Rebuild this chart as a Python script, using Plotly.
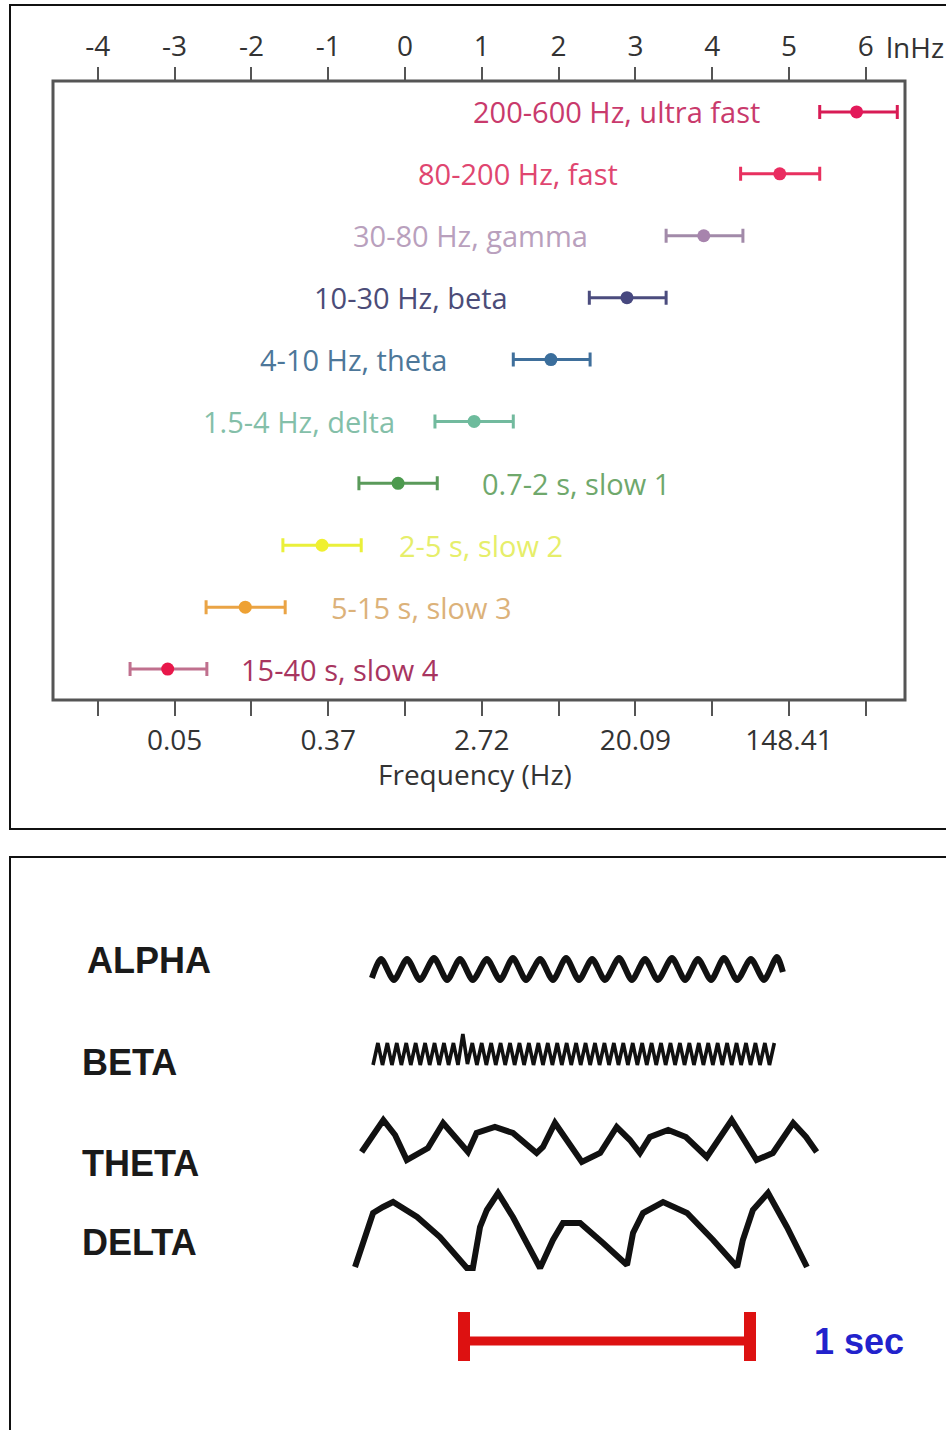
import plotly.graph_objects as go

W, H = 946, 1430

# ---------------- top panel data (natural log of frequency) ----------------
band_labels = ["200-600 Hz, ultra fast", "80-200 Hz, fast", "30-80 Hz, gamma",
               "10-30 Hz, beta", "4-10 Hz, theta", "1.5-4 Hz, delta",
               "0.7-2 s, slow 1", "2-5 s, slow 2", "5-15 s, slow 3", "15-40 s, slow 4"]
center_ln = [5.88, 4.88, 3.89, 2.89, 1.90, 0.90, -0.09, -1.08, -2.08, -3.09]
low_ln = [5.40, 4.37, 3.40, 2.40, 1.41, 0.39, -0.60, -1.59, -2.59, -3.58]
high_ln = [6.41, 5.40, 4.40, 3.40, 2.41, 1.41, 0.42, -0.57, -1.56, -2.58]

top_tick_vals = [-4, -3, -2, -1, 0, 1, 2, 3, 4, 5, 6]
top_tick_text = ["-4", "-3", "-2", "-1", "0", "1", "2", "3", "4", "5", "6"]
bottom_tick_text = ["", "0.05", "", "0.37", "", "2.72", "", "20.09", "", "148.41", ""]

# styles / label placement (layout, not data)
marker_colors = ["#e3195a", "#ea2c60", "#a784ad", "#47487f", "#3b6e9c",
                 "#6dbb9c", "#4c9a4e", "#f0f030", "#eea133", "#e8174a"]
bar_colors = ["#d81b55", "#e8305f", "#a28aa9", "#4b4c7e", "#3f6f9b",
              "#72ba9e", "#5a9a5a", "#eaf03a", "#eaa445", "#c0708e"]
text_colors = ["#c93a6c", "#e04670", "#b9a0bd", "#4b4c78", "#4d7799",
               "#84bfa9", "#6fa86c", "#e6ee6a", "#dcb27a", "#a83560"]
label_x = [4.65, 2.80, 2.41, 1.37, 0.57, -0.10, 0.98, -0.10, -0.99, -2.16]
label_anchor = ["right"] * 6 + ["left"] * 4

# ---------------- bottom panel data (time in ms, amplitude arbitrary) ----------------
wave_names = ["ALPHA", "BETA", "THETA", "DELTA"]

alpha_t = [-322, -290, -245, -199, -154, -105, -59, -14, 31, 80, 126, 171, 217, 266, 311,
           357, 402, 448, 493, 542, 587, 633, 678, 727, 773, 818, 864, 909, 955, 1003,
           1049, 1094, 1115]
alpha_a = [-9, 10, -11, 10, -11, 11, -11, 10, -11, 10, -11, 11, -11, 10, -11,
           11, -11, 10, -11, 11, -11, 10, -11, 11, -11, 10, -11, 11, -11, 10,
           -11, 12, -3]

beta_t = [-318, -301, -285, -268, -252, -235, -219, -202, -186, -169, -153, -136, -120,
          -103, -87, -70, -54, -37, -21, -4, 12, 29, 45, 62, 78, 95, 111, 128, 144, 161,
          177, 194, 210, 227, 243, 260, 276, 293, 309, 326, 342, 359, 375, 392, 408, 425,
          441, 458, 474, 491, 507, 524, 540, 557, 573, 590, 606, 623, 639, 656, 672, 689,
          705, 722, 738, 755, 771, 788, 804, 821, 837, 854, 870, 887, 903, 920, 936, 953,
          969, 986, 1002, 1019, 1035, 1052, 1068, 1085]
beta_a = [-11, 11, -11, 11, -11, 11, -11, 11, -11, 11, -11, 11, -11, 11, -11, 11, -11, 11, -11, 20,
          -10, 11, -11, 11, -11, 11, -11, 11, -11, 11, -11, 11, -11, 11, -11, 11, -11, 11, -11, 11,
          -11, 11, -11, 11, -11, 11, -11, 11, -11, 11, -11, 11, -11, 11, -11, 11, -11, 11, -11, 11,
          -11, 11, -11, 11, -11, 11, -11, 11, -11, 11, -11, 11, -11, 11, -11, 11, -11, 11, -11, 11,
          -11, 11, -11, 11, -11, 11]

theta_t = [-358, -282, -241, -200, -126, -73, -31, 14, 44, 108, 171, 254, 276, 318, 412,
           476, 534, 580, 615, 650, 714, 776, 849, 936, 1023, 1080, 1151, 1196, 1233]
theta_a = [-10, 22, 7, -18, -6, 19, 5, -10, 9, 15, 9, -11, -5, 19, -20,
           -11, 15, 2, -11, 5, 12, 5, -15, 22, -18, -11, 19, 5, -10]

delta_t = [-381, -353, -318, -283, -248, -164, -84, 10, 31, 56, 80, 119, 171, 266, 311,
           346, 406, 486, 570, 591, 626, 696, 780, 871, 955, 975, 1010, 1063, 1129, 1199]
delta_a = [-32, -8, 22, 28, 33, 18, -2, -33, -33, 8, 25, 42, 18, -33, -5,
           12, 12, -8, -30, 2, 22, 33, 22, -5, -32, -5, 25, 42, 8, -32]

scale_bar_ms = [0, 1000]
scale_label = "1 sec"

# layout constants for bottom panel (vertical baselines in axis units)
baselines = [461, 376, 288, 195]
wave_widths = [6, 3.6, 6, 6]
scale_y = 89

def px_x(px):
    return px / W

def px_y(py):
    return 1 - py / H

fig = go.Figure()

# ---- top panel traces ----
for i in range(len(band_labels)):
    fig.add_trace(go.Scatter(
        x=[center_ln[i]], y=[i], mode="markers",
        marker=dict(color=marker_colors[i], size=13),
        error_x=dict(type="data", symmetric=False,
                     array=[high_ln[i] - center_ln[i]],
                     arrayminus=[center_ln[i] - low_ln[i]],
                     color=bar_colors[i], thickness=3, width=7),
        xaxis="x", yaxis="y", showlegend=False, hoverinfo="skip"))

# invisible trace to anchor the bottom (Hz) axis
fig.add_trace(go.Scatter(x=[center_ln[0]], y=[0], mode="markers",
                         marker=dict(opacity=0), xaxis="x3", yaxis="y",
                         showlegend=False, hoverinfo="skip"))

# ---- bottom panel traces ----
wave_t = [alpha_t, beta_t, theta_t, delta_t]
wave_a = [alpha_a, beta_a, theta_a, delta_a]
for k in range(4):
    fig.add_trace(go.Scatter(
        x=wave_t[k], y=[baselines[k] + a for a in wave_a[k]], mode="lines",
        line=dict(color="#111111", width=wave_widths[k],
                  shape="spline" if k == 0 else "linear", smoothing=0.7),
        xaxis="x2", yaxis="y2", showlegend=False, hoverinfo="skip"))

fig.add_trace(go.Scatter(x=scale_bar_ms, y=[scale_y, scale_y], mode="lines",
                         line=dict(color="#dd1111", width=9),
                         xaxis="x2", yaxis="y2", showlegend=False, hoverinfo="skip"))

x_range = [(53 - 405) / 76.8, (905 - 405) / 76.8]
tick_font = dict(family="Open Sans", size=28, color="#333333")

shapes = [
    dict(type="rect", xref="paper", yref="paper", x0=px_x(10), x1=1.02,
         y0=px_y(829), y1=px_y(5), line=dict(color="#111111", width=2)),
    dict(type="rect", xref="paper", yref="paper", x0=px_x(10), x1=1.02,
         y0=-0.02, y1=px_y(857), line=dict(color="#111111", width=2)),
    dict(type="rect", xref="x domain", yref="y domain", x0=0, x1=1, y0=0, y1=1,
         line=dict(color="#555555", width=3)),
]
for t in scale_bar_ms:
    shapes.append(dict(type="rect", xref="x2", yref="y2", x0=t - 21, x1=t + 21,
                       y0=scale_y - 20, y1=scale_y + 29, fillcolor="#dd1111",
                       line=dict(width=0)))

annotations = []
for i in range(len(band_labels)):
    annotations.append(dict(x=label_x[i], y=i, xref="x", yref="y", text=band_labels[i],
                            showarrow=False, xanchor=label_anchor[i], yanchor="middle",
                            font=dict(family="Open Sans", size=29, color=text_colors[i])))
annotations.append(dict(x=px_x(884), y=px_y(47), xref="paper", yref="paper", text="lnHz",
                        showarrow=False, xanchor="left", yanchor="middle", font=tick_font))
annotations.append(dict(x=px_x(475), y=px_y(774), xref="paper", yref="paper",
                        text="Frequency (Hz)", showarrow=False, xanchor="center",
                        yanchor="middle", font=dict(family="Open Sans", size=28, color="#333333")))
label_pos = [(85, 960), (80, 1062), (80, 1163), (80, 1242)]
for k in range(4):
    annotations.append(dict(x=px_x(label_pos[k][0]), y=px_y(label_pos[k][1]),
                            xref="paper", yref="paper", text="<b>%s</b>" % wave_names[k],
                            showarrow=False, xanchor="left", yanchor="middle",
                            font=dict(family="Liberation Sans", size=36, color="#1a1a1a")))
annotations.append(dict(x=1217, y=scale_y, xref="x2", yref="y2", text="<b>%s</b>" % scale_label,
                        showarrow=False, xanchor="left", yanchor="middle",
                        font=dict(family="Liberation Sans", size=36, color="#2222cc")))

fig.update_layout(
    width=W, height=H, autosize=False,
    margin=dict(l=0, r=0, t=0, b=0),
    paper_bgcolor="white", plot_bgcolor="white",
    xaxis=dict(domain=[px_x(53), px_x(905)], range=x_range, side="top", anchor="y",
               tickmode="array", tickvals=top_tick_vals, ticktext=top_tick_text,
               ticks="outside", ticklen=13, tickwidth=2, tickcolor="#555555",
               showgrid=False, zeroline=False, showline=False, tickfont=tick_font,
               ticklabelstandoff=0),
    xaxis3=dict(overlaying="x", side="bottom", anchor="y", range=x_range,
                tickmode="array", tickvals=top_tick_vals, ticktext=bottom_tick_text,
                ticks="outside", ticklen=15, tickwidth=2, tickcolor="#555555",
                showgrid=False, zeroline=False, showline=False, tickfont=tick_font,
                ticklabelstandoff=0),
    yaxis=dict(domain=[px_y(700), px_y(81)], range=[9.5, -0.5], visible=False),
    xaxis2=dict(domain=[0, 1], range=[-464 * 1000 / 286, (W - 464) * 1000 / 286],
                anchor="y2", visible=False),
    yaxis2=dict(domain=[0, px_y(857)], range=[0, 573], anchor="x2", visible=False),
    shapes=shapes, annotations=annotations,
)

fig.write_html("out.html", config={"displayModeBar": False},
               post_script="document.body.style.margin='0px';")
